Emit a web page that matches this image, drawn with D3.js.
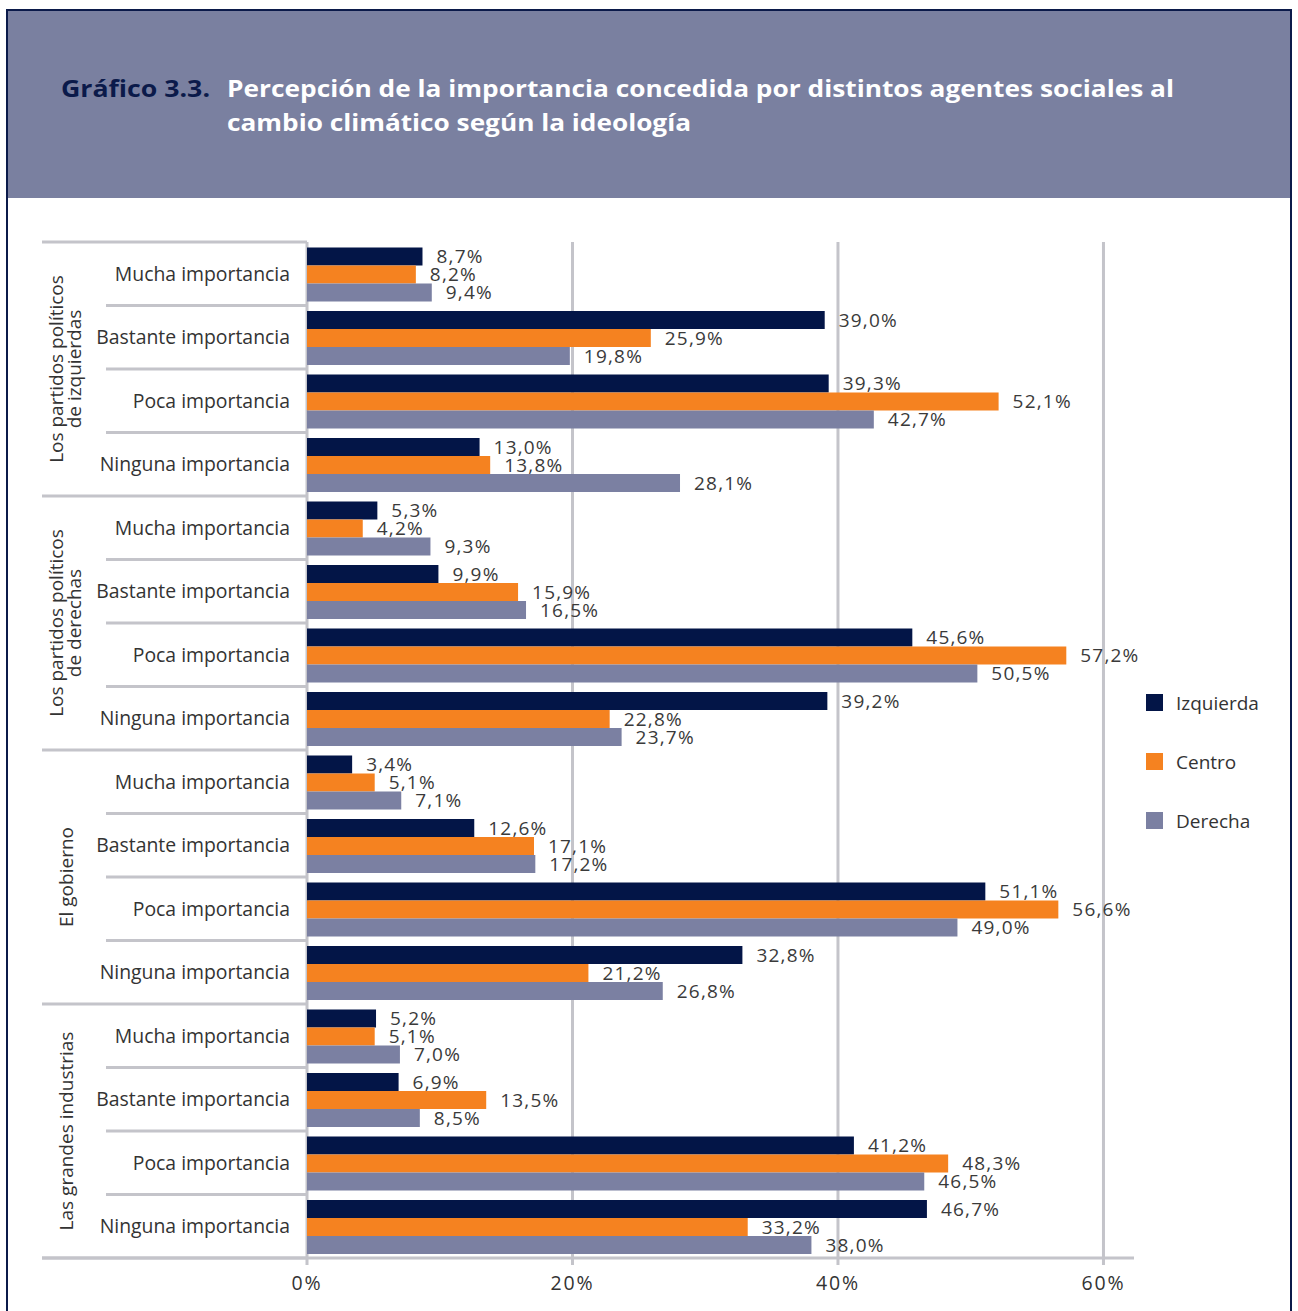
<!DOCTYPE html>
<html>
<head>
<meta charset="utf-8">
<script src="https://cdn.jsdelivr.net/npm/d3@7"></script>
<style>
  body { margin: 0; background: #fff; }
  svg text { font-family: "Open Sans", sans-serif; }
</style>
</head>
<body>
<div id="chart"></div>
<script>
// data
const groups = ["Los partidos políticos|de izquierdas", "Los partidos políticos|de derechas", "El gobierno", "Las grandes industrias"];
const levels = ["Mucha importancia", "Bastante importancia", "Poca importancia", "Ninguna importancia"];
const series = ["Izquierda", "Centro", "Derecha"];
const colors = ["#031547", "#f58220", "#7b80a2"];
// one array per series, 16 values: group by group, level by level
const izquierda = [8.7, 39.0, 39.3, 13.0,  5.3, 9.9, 45.6, 39.2,  3.4, 12.6, 51.1, 32.8,  5.2, 6.9, 41.2, 46.7];
const centro    = [8.2, 25.9, 52.1, 13.8,  4.2, 15.9, 57.2, 22.8,  5.1, 17.1, 56.6, 21.2,  5.1, 13.5, 48.3, 33.2];
const derecha   = [9.4, 19.8, 42.7, 28.1,  9.3, 16.5, 50.5, 23.7,  7.1, 17.2, 49.0, 26.8,  7.0, 8.5, 46.5, 38.0];
const xTicks = [0, 20, 40, 60];

const W = 1298, H = 1311;
const svg = d3.select("#chart").append("svg").attr("width", W).attr("height", H);

// header frame
svg.append("rect").attr("x", 7).attr("y", 10).attr("width", 1284).attr("height", H)
  .attr("fill", "#fff").attr("stroke", "#0b1a4a").attr("stroke-width", 2);
svg.append("rect").attr("x", 8).attr("y", 11).attr("width", 1282).attr("height", 187).attr("fill", "#7a80a0");
svg.append("text").attr("x", 61).attr("y", 97).attr("fill", "#0b1a4a")
  .style("font-weight", 700).style("font-size", "23px").attr("textLength", 149).attr("lengthAdjust", "spacingAndGlyphs")
  .text("Gráfico 3.3.");
svg.append("text").attr("x", 227).attr("y", 97).attr("fill", "#fff")
  .style("font-weight", 700).style("font-size", "23px").attr("textLength", 947).attr("lengthAdjust", "spacingAndGlyphs")
  .text("Percepción de la importancia concedida por distintos agentes sociales al");
svg.append("text").attr("x", 227).attr("y", 131).attr("fill", "#fff")
  .style("font-weight", 700).style("font-size", "23px").attr("textLength", 464).attr("lengthAdjust", "spacingAndGlyphs")
  .text("cambio climático según la ideología");

// rows
const rows = [];
groups.forEach((g, gi) => levels.forEach((l, li) => {
  const i = gi * 4 + li;
  rows.push({ id: i, group: gi, level: l, values: [izquierda[i], centro[i], derecha[i]] });
}));

const x = d3.scaleLinear().domain([0, 62.3]).range([307, 1134]);
const y = d3.scaleBand().domain(rows.map(d => d.id)).range([242, 1258]);
const yInner = d3.scaleBand().domain(series).range([5.5, y.bandwidth() - 4]);
const grid = "#c4c4ca";

// gridlines
svg.append("g").selectAll("line").data(xTicks.filter(t => t > 0)).join("line")
  .attr("x1", d => x(d)).attr("x2", d => x(d))
  .attr("y1", 242).attr("y2", 1265)
  .attr("stroke", grid).attr("stroke-width", 3);

// row separators
svg.append("g").selectAll("line").data(d3.range(rows.length + 1)).join("line")
  .attr("x1", d => d % 4 === 0 ? 42 : 106).attr("x2", 307)
  .attr("y1", d => 242 + d * y.step()).attr("y2", d => 242 + d * y.step())
  .attr("stroke", grid).attr("stroke-width", 3);
svg.append("line").attr("x1", 307).attr("x2", 307).attr("y1", 242).attr("y2", 1265)
  .attr("stroke", grid).attr("stroke-width", 3);
svg.append("line").attr("x1", 42).attr("x2", x(62.3)).attr("y1", 1258).attr("y2", 1258)
  .attr("stroke", grid).attr("stroke-width", 3);

// bars
const rowG = svg.append("g").selectAll("g").data(rows).join("g")
  .attr("transform", d => `translate(0,${y(d.id)})`);
rowG.selectAll("rect").data(d => d.values.map((v, k) => ({ v, k }))).join("rect")
  .attr("x", x(0)).attr("width", d => x(d.v) - x(0))
  .attr("y", d => yInner(series[d.k])).attr("height", yInner.bandwidth())
  .attr("fill", d => colors[d.k]);
rowG.selectAll("text.val").data(d => d.values.map((v, k) => ({ v, k }))).join("text")
  .attr("class", "val")
  .attr("x", d => x(d.v) + 14).attr("y", d => yInner(series[d.k]) + yInner.bandwidth() / 2)
  .attr("dy", "0.35em").attr("fill", "#3a3a3a").style("font-size", "19px").style("letter-spacing", "1.2px")
  .text(d => d.v.toFixed(1).replace(".", ",") + "%");

// level labels
rowG.append("text").attr("x", 290).attr("y", y.bandwidth() / 2).attr("dy", "0.35em")
  .attr("text-anchor", "end").attr("fill", "#333").style("font-size", "19.4px")
  .text(d => d.level);

// group labels
groups.forEach((g, gi) => {
  const cy = 242 + (gi * 4 + 2) * y.step();
  const lines = g.split("|");
  const t = svg.append("text").attr("transform", `translate(66,${cy}) rotate(-90)`)
    .attr("text-anchor", "middle").attr("fill", "#333").style("font-size", "19px");
  lines.forEach((s, i) => t.append("tspan").attr("x", 0)
    .attr("dy", i === 0 ? (0.35 - (lines.length - 1) * 0.5) + "em" : "0.95em").text(s));
});

// x axis labels
svg.append("g").selectAll("text").data(xTicks).join("text")
  .attr("x", d => x(d)).attr("y", 1283).attr("dy", "0.35em").attr("text-anchor", "middle")
  .attr("fill", "#333").style("font-size", "19.5px").style("letter-spacing", "1.8px")
  .text(d => d + "%");

// legend
const leg = svg.append("g").selectAll("g").data(series).join("g")
  .attr("transform", (d, i) => `translate(1146,${703 + i * 59})`);
leg.append("rect").attr("x", 0).attr("y", -9).attr("width", 17).attr("height", 17)
  .attr("fill", (d, i) => colors[i]);
leg.append("text").attr("x", 30).attr("y", 0).attr("dy", "0.35em")
  .attr("fill", "#333").style("font-size", "19px").text(d => d);
</script>
</body>
</html>
